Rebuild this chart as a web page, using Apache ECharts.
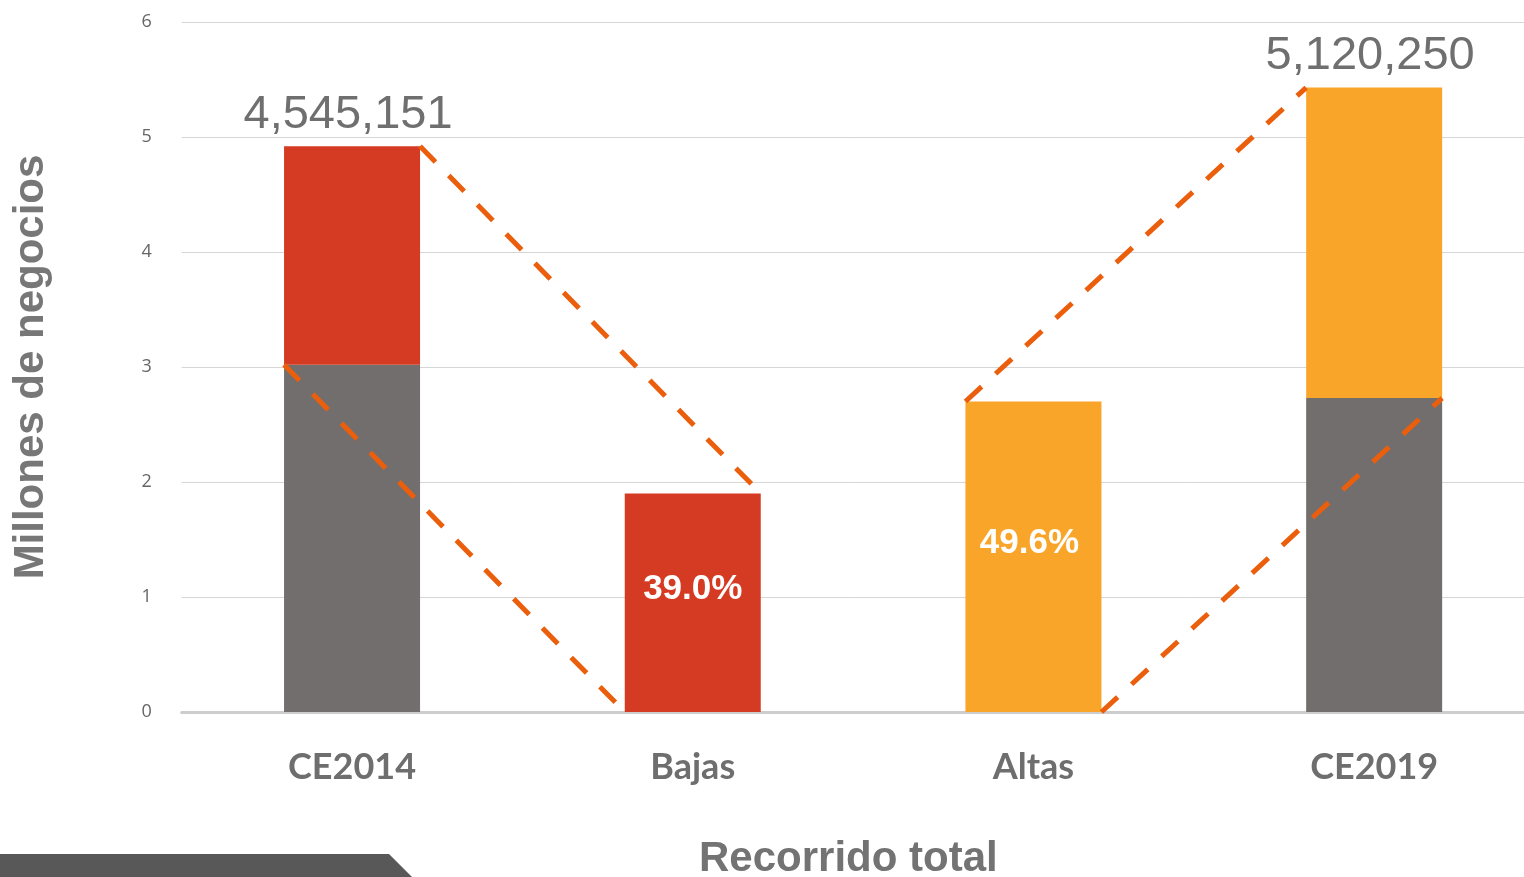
<!DOCTYPE html>
<html>
<head>
<meta charset="utf-8">
<script src="https://cdn.jsdelivr.net/npm/echarts@6/dist/echarts.min.js"></script>
<style>
html,body{margin:0;padding:0;background:#fff;overflow:hidden;}
#chart{width:1524px;height:877px;}
</style>
</head>
<body>
<div id="chart"></div>
<script>
// ---- data ----
const categories = ['CE2014', 'Bajas', 'Altas', 'CE2019'];
const baseGray   = [3.02, null, null, 2.73];   // negocios que permanecen
const bajasRed   = [1.90, 1.90, null, null];   // bajas
const altasOrange = [null, null, 2.70, 2.70];  // altas
const topLabels  = ['4,545,151', '', '', '5,120,250'];
const pctLabels  = ['', '39.0%', '49.6%', ''];
const yTicks = { min: 0, max: 6, interval: 1 };
// connector lines: [fromCat, fromValue, fromSide, toCat, toValue, toSide]  side: -1 left edge, +1 right edge
const connectors = [
  [0, 4.92, 1, 1, 1.90, 1],
  [0, 3.02, -1, 1, 0, -1],
  [2, 2.70, -1, 3, 5.43, -1],
  [2, 0, 1, 3, 2.73, 1]
];

const BAR_W = 136;
const GRAY = '#736e6e', RED = '#d53a22', ORANGE = '#f9a52a', DASH = '#ea5e0c';

function topLabel(text) {
  return { show: true, position: 'top', distance: 8, offset: [-4, 0], formatter: text, color: '#6f6f6f', fontSize: 47, fontFamily: 'Liberation Sans' };
}
function pctLabel(text, dx) {
  return { show: true, position: 'inside', offset: [dx, -13], formatter: text, color: '#fff', fontSize: 35, fontWeight: 'bold', fontFamily: 'Liberation Sans' };
}
function redData() {
  return bajasRed.map((v, i) => {
    if (v == null) return '-';
    if (topLabels[i]) return { value: v, label: topLabel(topLabels[i]) };
    if (pctLabels[i]) return { value: v, label: pctLabel(pctLabels[i], 0) };
    return v;
  });
}
function orangeData() {
  return altasOrange.map((v, i) => {
    if (v == null) return '-';
    if (topLabels[i]) return { value: v, label: topLabel(topLabels[i]) };
    if (pctLabels[i]) return { value: v, label: pctLabel(pctLabels[i], -4) };
    return v;
  });
}

const chart = echarts.init(document.getElementById('chart'), null, { renderer: 'canvas' });
chart.setOption({
  backgroundColor: '#ffffff',
  animation: false,
  title: {
    text: 'Recorrido total',
    left: 699, top: 838, padding: 0,
    textStyle: { fontFamily: 'Liberation Sans', fontWeight: 'bold', fontSize: 42, color: '#737373' }
  },
  grid: { left: 181.7, right: -20.5, top: 22, bottom: 165, containLabel: false, outerBoundsMode: 'none' },
  xAxis: {
    type: 'category',
    data: categories,
    axisTick: { show: false },
    axisLine: { show: true, lineStyle: { color: '#cdcdcd', width: 3 } },
    axisLabel: { margin: 37, fontFamily: 'Lato', fontWeight: 'bold', fontSize: 36, color: '#6e6e6e' }
  },
  yAxis: {
    type: 'value',
    min: yTicks.min, max: yTicks.max, interval: yTicks.interval,
    name: 'Millones de negocios',
    nameLocation: 'middle',
    nameRotate: 90,
    nameGap: 129,
    nameTextStyle: { fontFamily: 'Liberation Sans', fontWeight: 'bold', fontSize: 42, color: '#777777' },
    axisLine: { show: false },
    axisTick: { show: false },
    axisLabel: { margin: 30, fontFamily: 'Open Sans', fontSize: 18, color: '#666666' },
    splitLine: { lineStyle: { color: '#d6d6d6', width: 1 } }
  },
  graphic: [{
    type: 'polygon',
    shape: { points: [[0, 854], [389, 854], [412, 877], [0, 877]] },
    style: { fill: '#585858' },
    silent: true
  }],
  series: [
    { name: 'Permanecen', type: 'bar', stack: 't', barWidth: BAR_W, data: baseGray.map(v => v == null ? '-' : v), itemStyle: { color: GRAY } },
    { name: 'Bajas', type: 'bar', stack: 't', barWidth: BAR_W, data: redData(), itemStyle: { color: RED } },
    { name: 'Altas', type: 'bar', stack: 't', barWidth: BAR_W, data: orangeData(), itemStyle: { color: ORANGE } },
    {
      name: 'conectores', type: 'custom', z: 10, silent: true,
      encode: { x: [0, 3], y: [1, 4] },
      data: connectors,
      renderItem: function (params, api) {
        const p0 = api.coord([api.value(0), api.value(1)]);
        const p1 = api.coord([api.value(3), api.value(4)]);
        const h = BAR_W / 2;
        return {
          type: 'line',
          shape: { x1: p0[0] + api.value(2) * h, y1: p0[1], x2: p1[0] + api.value(5) * h, y2: p1[1] },
          style: { stroke: DASH, lineWidth: 5, lineDash: [22, 19], lineCap: 'butt' }
        };
      }
    }
  ]
});
</script>
</body>
</html>
